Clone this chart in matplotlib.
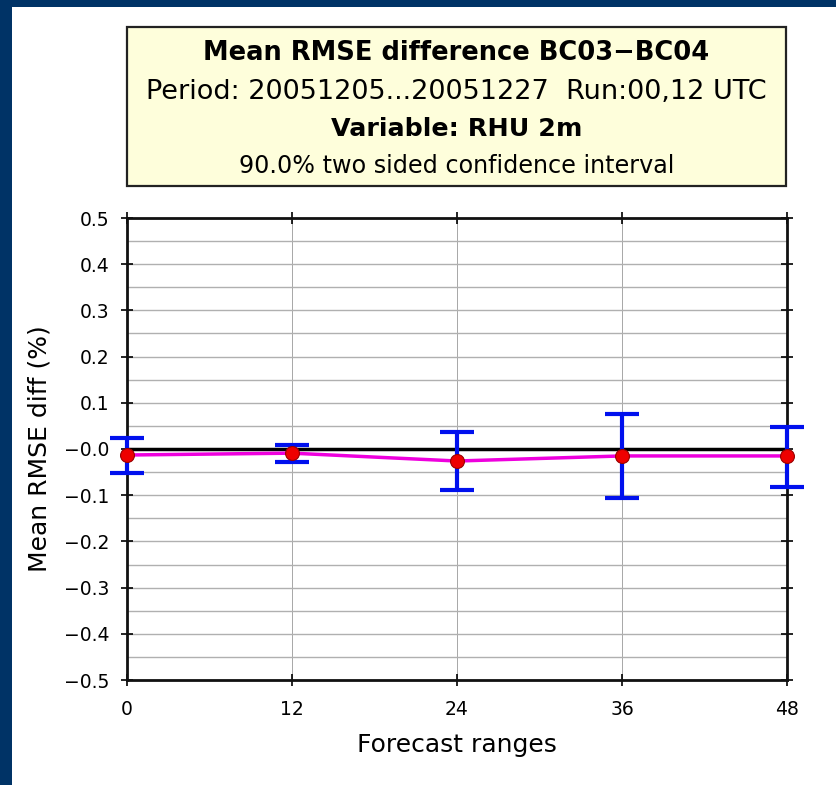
import matplotlib
matplotlib.use("Agg")
import matplotlib.pyplot as plt
from matplotlib.patches import Rectangle
import numpy as np

plt.rcParams['font.family'] = ['DejaVu Sans']

ranges = [0, 12, 24, 36, 48]
mean_diff = [-0.013, -0.009, -0.026, -0.015, -0.015]
ci_upper = [0.024, 0.009, 0.037, 0.076, 0.048]
ci_lower = [-0.052, -0.028, -0.089, -0.106, -0.082]
yticks = [0.5, 0.4, 0.3, 0.2, 0.1, 0.0, -0.1, -0.2, -0.3, -0.4, -0.5]
ytick_labels = ["0.5", "0.4", "0.3", "0.2", "0.1", "\u22120.0", "\u22120.1", "\u22120.2",
                "\u22120.3", "\u22120.4", "\u22120.5"]
title_lines = ["Mean RMSE difference BC03\u2212BC04",
               "Period: 20051205...20051227  Run:00,12 UTC",
               "Variable: RHU 2m",
               "90.0% two sided confidence interval"]

W, H = 837, 785
fig = plt.figure(figsize=(W / 100, H / 100), dpi=100)
fig.patch.set_facecolor('white')

navy = '#003366'
fig.patches.append(Rectangle((0, 1 - 7 / H), 1, 7 / H, transform=fig.transFigure,
                             facecolor=navy, edgecolor='none', zorder=0))
fig.patches.append(Rectangle((0, 0), 12 / W, 1, transform=fig.transFigure,
                             facecolor=navy, edgecolor='none', zorder=0))

# title box
bx0, bx1, by0, by1 = 127, 786, 27, 186
fig.patches.append(Rectangle((bx0 / W, 1 - by1 / H), (bx1 - bx0) / W, (by1 - by0) / H,
                             transform=fig.transFigure, facecolor='#fefedb',
                             edgecolor='#222222', linewidth=1.6, zorder=1))
cx = (bx0 + bx1) / 2 / W
ys = [53, 92, 129, 166]
weights = ['bold', 'normal', 'bold', 'normal']
sizes = [18.5, 19.5, 18.3, 17.2]
for t, yy, w, s in zip(title_lines, ys, weights, sizes):
    fig.text(cx, 1 - yy / H, t, ha='center', va='center', fontsize=s, fontweight=w,
             color='black', zorder=2)

ax0, ax1, ay0, ay1 = 127, 787, 218, 680
ax = fig.add_axes([ax0 / W, 1 - ay1 / H, (ax1 - ax0) / W, (ay1 - ay0) / H])
ax.set_xlim(0, 48)
ax.set_ylim(-0.5, 0.5)

ax.set_yticks(yticks)
ax.set_yticklabels(ytick_labels, fontsize=13.5)
ax.set_yticks(np.arange(-0.45, 0.5, 0.1), minor=True)
ax.set_xticks(ranges)
ax.set_xticklabels([str(r) for r in ranges], fontsize=13.5)

ax.grid(True, which='major', axis='y', color='#b0b0b0', linewidth=1.0, zorder=0)
ax.grid(True, which='minor', axis='y', color='#b0b0b0', linewidth=1.0, zorder=0)
ax.grid(True, which='major', axis='x', color='#999999', linewidth=0.6, zorder=0)

ax.tick_params(axis='both', which='major', direction='inout', length=9, width=1.2,
               top=True, right=True, labeltop=False, labelright=False)
ax.tick_params(axis='y', which='major', pad=8)
ax.tick_params(axis='x', which='major', pad=10)
ax.tick_params(axis='y', which='minor', length=0)
for sp in ax.spines.values():
    sp.set_linewidth(2.0)
    sp.set_color('#111111')

ax.axhline(0, color='black', linewidth=2.5, zorder=2)
ax.plot(ranges, mean_diff, color='#ee00dd', linewidth=2.5, zorder=3, clip_on=False)
yerr = [np.array(mean_diff) - np.array(ci_lower), np.array(ci_upper) - np.array(mean_diff)]
eb = ax.errorbar(ranges, mean_diff, yerr=yerr, fmt='none', ecolor='#0010ee',
                 elinewidth=3, capsize=12.5, capthick=3, zorder=4)
for art in list(eb.lines[1]) + list(eb.lines[2]):
    art.set_clip_on(False)
ax.plot(ranges, mean_diff, 'o', markersize=10, markerfacecolor='#ee0000',
        markeredgecolor='#990000', markeredgewidth=0.8, zorder=5, clip_on=False)

ax.set_ylabel("Mean RMSE diff (%)", fontsize=18, labelpad=9)
ax.set_xlabel("Forecast ranges", fontsize=18, labelpad=10)

fig.savefig("out.png", dpi=100)
